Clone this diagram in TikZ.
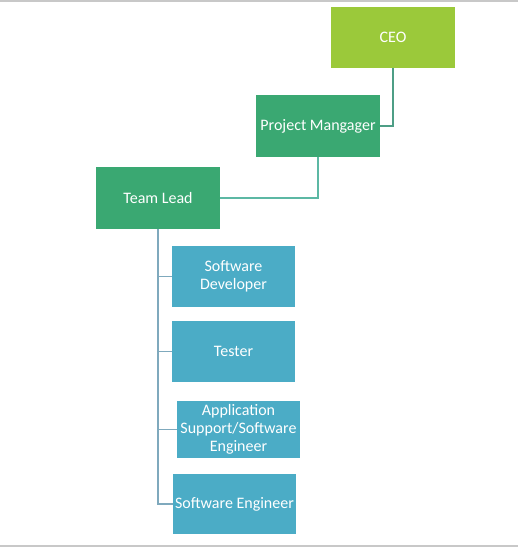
\documentclass[tikz,border=0pt]{standalone}
\usepackage{fontspec}
\setmainfont{Carlito}
\definecolor{ceogreen}{HTML}{9BC93A}
\definecolor{leadgreen}{HTML}{3AA872}
\definecolor{staffblue}{HTML}{4BACC6}
\definecolor{pmline}{HTML}{4E9E86}
\definecolor{tlline}{HTML}{5CB8A4}
\definecolor{staffline}{HTML}{7FA9BD}
\definecolor{frame}{HTML}{C8C8C8}

\begin{document}
\begin{tikzpicture}[x=1pt,y=-1pt]
      \tikzset{
        every node/.style={rectangle,inner sep=2pt,text=white,align=center,
                           font=\fontsize{16}{17.8}\selectfont},
        box/.style={minimum width=124pt,minimum height=62pt},
        staff/.style={fill=staffblue,minimum width=123pt,minimum height=60pt},
        link/.style={line width=1.1pt}
      }

      \useasboundingbox (0,0) rectangle (518,548);
      \draw[frame,line width=1.5pt] (0,1) -- (518,1);
      \draw[frame,line width=1.5pt] (0,546) -- (518,546);

      \node[box,fill=ceogreen,minimum height=61pt] (ceo) at (393,37.5) {CEO};
      \node[box,fill=leadgreen] (pm) at (318,126) {Project Mangager};
      \node[box,fill=leadgreen] (tl) at (158,198) {Team Lead};

      \node[staff,minimum height=61pt] (dev) at (233.5,276.5) {Software\\Developer};
      \node[staff,minimum height=61pt] (test) at (233.5,351.5) {Tester};
      \node[staff,minimum height=57pt] (supp) at (238.5,429.5) {Application\\Support/Software\\Engineer};
      \node[staff] (eng) at (234.5,504) {Software Engineer};

      \draw[link,pmline] (ceo.south) |- (pm.east);
      \draw[link,tlline] (pm.south) |- (tl.east);
      \draw[link,staffline] (tl.south) |- (dev.west)
            (tl.south) |- (test.west)
            (tl.south) |- (supp.west)
            (tl.south) |- (eng.west);
    \end{tikzpicture}
\end{document}
